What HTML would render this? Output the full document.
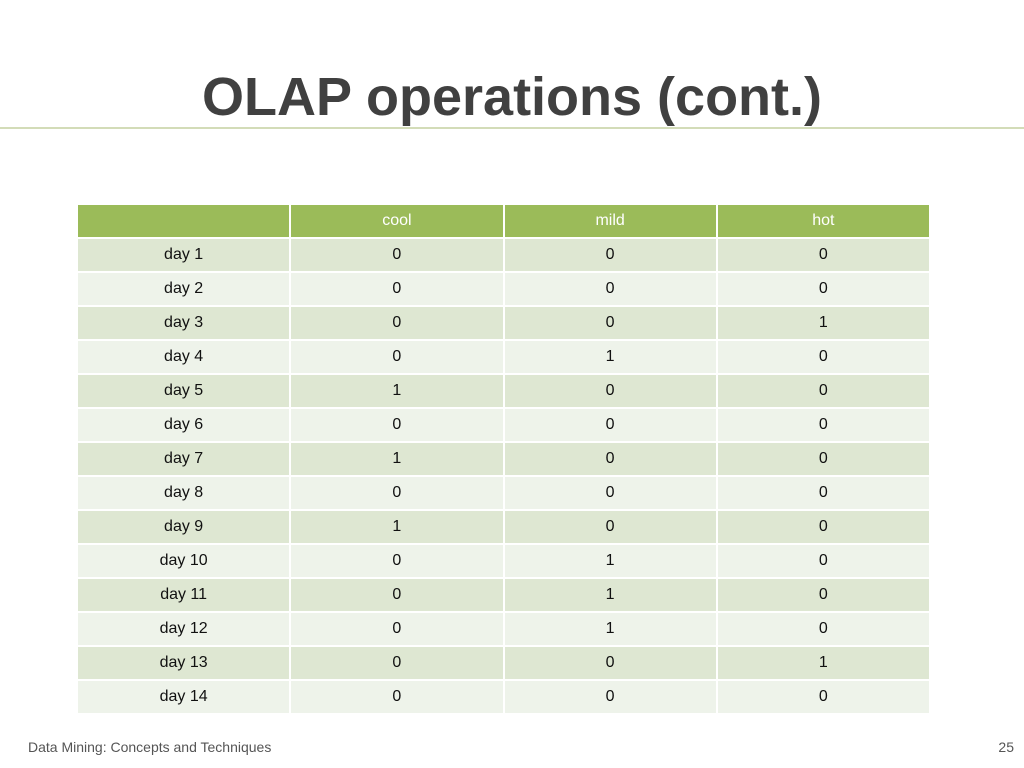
<!DOCTYPE html>
<html><head><meta charset="utf-8"><style>
body{margin:0;width:1024px;height:768px;background:#fff;position:relative;overflow:hidden;font-family:"Liberation Sans",sans-serif}
#title{position:absolute;left:0;width:1024px;top:66px;text-align:center;font-size:54px;font-weight:bold;color:#404040;letter-spacing:0px}
#rule{position:absolute;left:0;top:127px;width:1024px;height:2px;background:#d3dcb8}
table{position:absolute;left:76px;top:203px;width:855px;border-collapse:collapse}
td{border:2px solid #fff;height:32px;padding:0;text-align:center;font-size:16px;color:#111;width:213px}
tr.h td{background:#9bbb59;color:#fff}
tr.a td{background:#dee7d2}
tr.b td{background:#eef3ea}
.foot{position:absolute;top:739px;font-size:14px;color:#555}
</style></head><body>
<div id="title">OLAP operations (cont.)</div>
<div id="rule"></div>
<table><tbody id="tb"></tbody></table>
<div class="foot" style="left:28px">Data Mining: Concepts and Techniques</div>
<div class="foot" style="right:10px">25</div>
<script>
const columns=["","cool","mild","hot"];
const days=["day 1","day 2","day 3","day 4","day 5","day 6","day 7","day 8","day 9","day 10","day 11","day 12","day 13","day 14"];
const cool=[0,0,0,0,1,0,1,0,1,0,0,0,0,0];
const mild=[0,0,0,1,0,0,0,0,0,1,1,1,0,0];
const hot=[0,0,1,0,0,0,0,0,0,0,0,0,1,0];
const tb=document.getElementById('tb');
let hr=document.createElement('tr');hr.className='h';


columns.forEach(c=>{const td=document.createElement('td');td.textContent=c;


hr.appendChild(td);});
tb.appendChild(hr);
days.forEach((d,i)=>{const tr=document.createElement('tr');tr.className=i%2?'b':'a';


[d,cool[i],mild[i],hot[i]].forEach(v=>{const td=document.createElement('td');td.textContent=v;


tr.appendChild(td);});
tb.appendChild(tr);});
</script>
</body></html>
